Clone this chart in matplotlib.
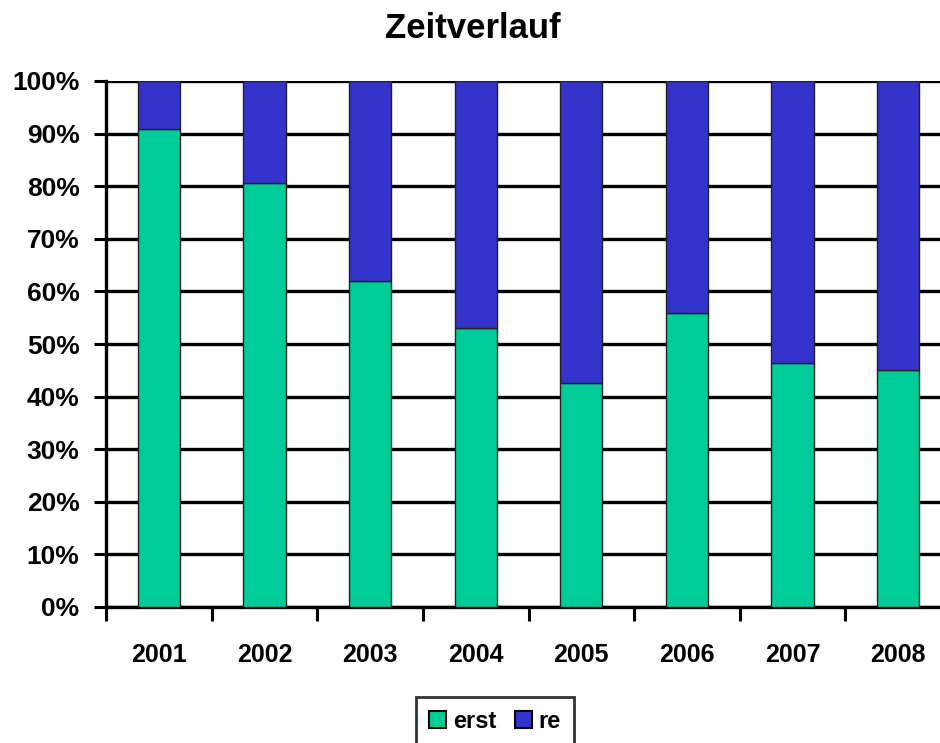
import matplotlib
matplotlib.use('Agg')
import numpy as np
import matplotlib.pyplot as plt
from matplotlib.patches import Patch

years = ['2001', '2002', '2003', '2004', '2005', '2006', '2007', '2008']
erst = [90.9, 80.6, 62.0, 53.0, 42.6, 55.9, 46.4, 45.1]
re = [100 - v for v in erst]

green = '#00CC99'
blue = '#3333CC'

plt.rcParams['font.family'] = ['Liberation Sans', 'DejaVu Sans']
plt.rcParams['font.weight'] = 'bold'

fig = plt.figure(figsize=(9.4, 7.43), dpi=100)
ax = fig.add_axes([106 / 940, 1 - 607 / 743, 845 / 940, 526 / 743])

x = np.arange(len(years))
ax.bar(x, erst, width=0.4, color=green, edgecolor='#222222', linewidth=1.0, zorder=3)
ax.bar(x, re, width=0.4, bottom=erst, color=blue, edgecolor='#222222', linewidth=1.0, zorder=3)

ax.set_xlim(-0.5, len(years) - 0.5)
ax.set_ylim(0, 100)
ax.set_yticks(np.arange(0, 101, 10))
ax.set_yticklabels([f'{v}%' for v in range(0, 101, 10)], fontsize=19, fontweight='bold')
ax.set_xticks(x)
ax.set_xticklabels(years, fontsize=18, fontweight='bold')
ax.set_xticks(np.arange(-0.5, len(years), 1), minor=True)
ax.tick_params(axis='x', which='major', length=0, pad=26)
ax.tick_params(axis='x', which='minor', length=10, width=2.2, direction='out')
ax.tick_params(axis='y', length=9, width=2.2, direction='out', pad=10)

ax.yaxis.grid(True, color='black', linewidth=2.4, zorder=1)
ax.set_axisbelow(True)
for side in ['top', 'right']:
    ax.spines[side].set_visible(False)
for side in ['left', 'bottom']:
    ax.spines[side].set_linewidth(2.4)

fig.text(473 / 940, 1 - 28 / 743, 'Zeitverlauf', ha='center', va='center',
         fontsize=25, fontweight='bold')

# legend box runs off the bottom edge, as in the original
handles = [Patch(facecolor=green, edgecolor='black', linewidth=1.5, label='erst'),
           Patch(facecolor=blue, edgecolor='black', linewidth=1.5, label='re')]
leg = fig.legend(handles=handles, loc='upper center', bbox_to_anchor=(495 / 940, 1 - 697 / 743),
                 ncol=2, frameon=True, fancybox=False, edgecolor='black',
                 handlelength=0.7, handleheight=0.7, handletextpad=0.3, columnspacing=0.8,
                 borderpad=0.55, borderaxespad=0, prop={'weight': 'bold', 'size': 17})
leg.get_frame().set_linewidth(2)

fig.savefig('out.png', dpi=100)
